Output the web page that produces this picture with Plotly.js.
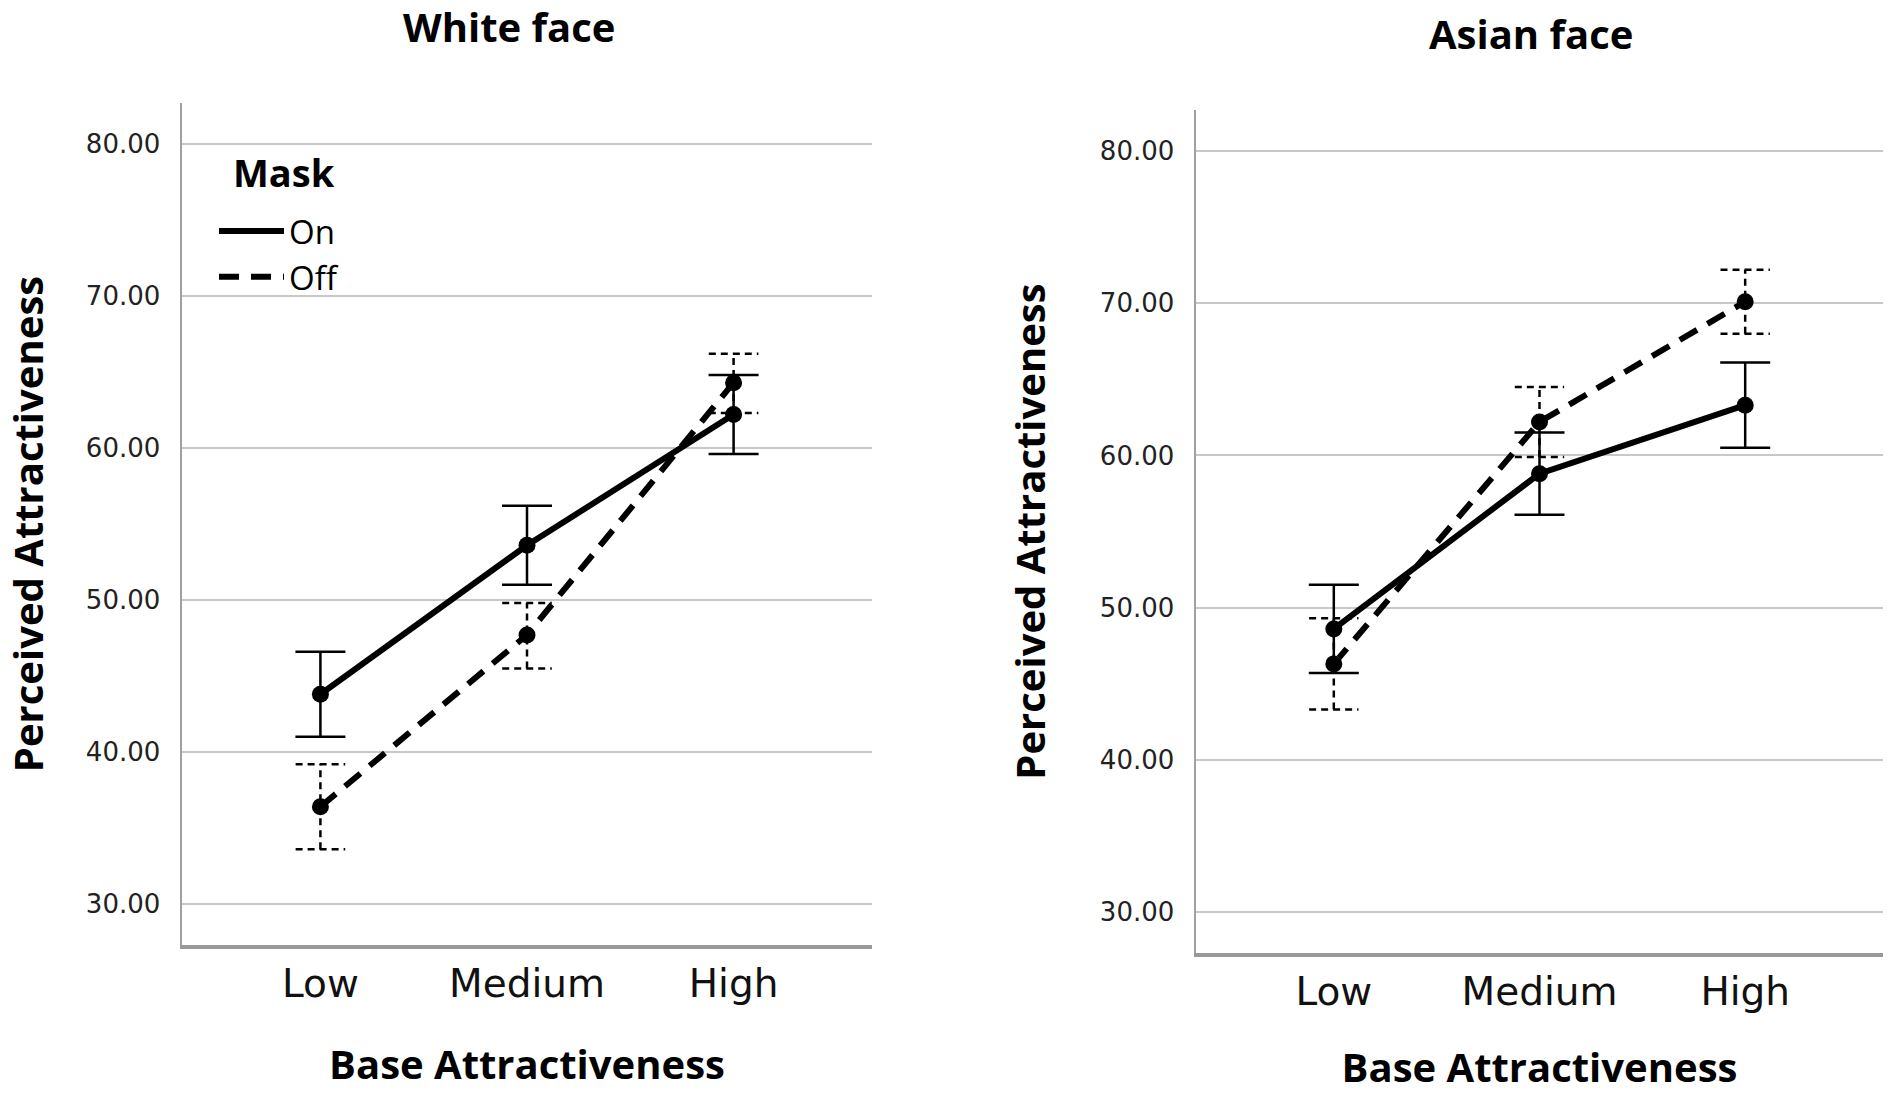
<!DOCTYPE html>
<html>
<head>
<meta charset="utf-8">
<script src="https://cdn.plot.ly/plotly-3.0.1.min.js"></script>
<style>
  html, body { margin: 0; padding: 0; background: #fff; }
  #chart { width: 1890px; height: 1094px; }
</style>
</head>
<body>
<div id="chart"></div>
<script>
// ---- Data ----
const categories = ['Low', 'Medium', 'High'];
const yTicks = [30, 40, 50, 60, 70, 80];

// White face
const whiteOnMean  = [43.8, 53.6, 62.2];
const whiteOnUpper = [46.6, 56.2, 64.8];
const whiteOnLower = [41.0, 51.0, 59.6];
const whiteOffMean  = [36.4, 47.7, 64.3];
const whiteOffUpper = [39.2, 49.8, 66.2];
const whiteOffLower = [33.6, 45.5, 62.3];

// Asian face
const asianOnMean  = [48.6, 58.8, 63.3];
const asianOnUpper = [51.5, 61.5, 66.1];
const asianOnLower = [45.7, 56.1, 60.5];
const asianOffMean  = [46.3, 62.2, 70.1];
const asianOffUpper = [49.3, 64.5, 72.2];
const asianOffLower = [43.3, 59.9, 68.0];

// ---- Helpers ----
const xIdx = categories.map((_, i) => i);
const CAP = 0.12; // half-width of error bar caps in category units

function dashedErrorBars(mean, upper, lower, xa, ya) {
  const xs = [], ys = [];
  xIdx.forEach(i => {
    xs.push(i, i, null, i - CAP, i + CAP, null, i - CAP, i + CAP, null);
    ys.push(lower[i], upper[i], null, upper[i], upper[i], null, lower[i], lower[i], null);
  });
  return {
    x: xs, y: ys, xaxis: xa, yaxis: ya, mode: 'lines', showlegend: false,
    hoverinfo: 'skip', line: { color: '#000', width: 2.5, dash: '7px,5px' }
  };
}

function panelTraces(onM, onU, onL, offM, offU, offL, xa, ya, legend) {
  return [
    dashedErrorBars(offM, offU, offL, xa, ya),
    {
      x: xIdx, y: onM, xaxis: xa, yaxis: ya, mode: 'markers', showlegend: false,
      marker: { color: '#000', size: 17 },
      error_y: {
        type: 'data', symmetric: false,
        array: onU.map((v, i) => v - onM[i]),
        arrayminus: onM.map((v, i) => v - onL[i]),
        color: '#000', thickness: 2.5, width: 25
      }
    },
    {
      x: xIdx, y: offM, xaxis: xa, yaxis: ya, mode: 'markers', showlegend: false,
      marker: { color: '#000', size: 17 }
    },
    {
      x: xIdx, y: onM, xaxis: xa, yaxis: ya, mode: 'lines', name: 'On',
      showlegend: legend, legendgroup: 'on',
      line: { color: '#000', width: 6 }
    },
    {
      x: xIdx, y: offM, xaxis: xa, yaxis: ya, mode: 'lines', name: 'Off',
      showlegend: legend, legendgroup: 'off',
      line: { color: '#000', width: 6, dash: '20px,12px' }
    }
  ];
}

const traces = [].concat(
  panelTraces(whiteOnMean, whiteOnUpper, whiteOnLower, whiteOffMean, whiteOffUpper, whiteOffLower, 'x', 'y', true),
  panelTraces(asianOnMean, asianOnUpper, asianOnLower, asianOffMean, asianOffUpper, asianOffLower, 'x2', 'y2', false)
);

const W = 1890, H = 1094;
const tickFontY = { family: 'DejaVu Sans, Verdana, sans-serif', size: 26, color: '#222' };
const tickFontX = { family: 'DejaVu Sans, Verdana, sans-serif', size: 39, color: '#111' };
const boldFont = { family: 'Open Sans, Arial, sans-serif', size: 40, color: '#000' };

function xAxis(domain, anchor) {
  return {
    domain: domain, anchor: anchor, range: [-0.67, 2.67],
    tickmode: 'array', tickvals: xIdx, ticktext: categories,
    showgrid: false, zeroline: false, ticks: '',
    showline: true, linecolor: '#999', linewidth: 3.5,
    tickfont: tickFontX, ticklabelstandoff: 2,
    title: { text: '<b>Base Attractiveness</b>', font: boldFont, standoff: 46 },
    fixedrange: true
  };
}
function yAxis(domain, anchor) {
  return {
    domain: domain, anchor: anchor, range: [27.3, 82.7],
    tickmode: 'array', tickvals: yTicks, ticktext: yTicks.map(v => v.toFixed(2)),
    showgrid: true, gridcolor: '#c8c8c8', gridwidth: 2,
    zeroline: false, ticks: '',
    showline: true, linecolor: '#a0a0a0', linewidth: 2.5,
    tickfont: tickFontY, ticklabelstandoff: 14,
    title: { text: '<b>Perceived Attractiveness</b>', font: boldFont, standoff: 42 },
    fixedrange: true
  };
}

const layout = {
  width: W, height: H,
  margin: { l: 0, r: 0, t: 0, b: 0 },
  paper_bgcolor: '#fff', plot_bgcolor: '#fff',
  showlegend: true,
  xaxis: xAxis([182 / W, 872 / W], 'y'),
  yaxis: yAxis([1 - 945 / H, 1 - 103 / H], 'x'),
  xaxis2: xAxis([1196 / W, 1883 / W], 'y2'),
  yaxis2: yAxis([1 - 953 / H, 1 - 110 / H], 'x2'),
  legend: {
    x: 214 / W, y: 1 - 203 / H, xanchor: 'left', yanchor: 'top',
    bgcolor: 'rgba(255,255,255,0)', borderwidth: 0,
    font: { family: 'Open Sans, Arial, sans-serif', size: 33, color: '#000' },
    tracegroupgap: 0, itemwidth: 65
  },
  annotations: [
    { text: '<b>White face</b>', xref: 'paper', yref: 'paper', x: 509 / W, y: 1 - 26 / H,
      xanchor: 'center', yanchor: 'middle', showarrow: false, font: boldFont },
    { text: '<b>Asian face</b>', xref: 'paper', yref: 'paper', x: 1531 / W, y: 1 - 34 / H,
      xanchor: 'center', yanchor: 'middle', showarrow: false, font: boldFont },
    { text: '<b>Mask</b>', xref: 'paper', yref: 'paper', x: 231 / W, y: 1 - 172 / H,
      xanchor: 'left', yanchor: 'middle', showarrow: false,
      font: { family: 'Open Sans, Arial, sans-serif', size: 38, color: '#000' } }
  ]
};

Plotly.newPlot('chart', traces, layout, { displayModeBar: false, staticPlot: true });
</script>
</body>
</html>
